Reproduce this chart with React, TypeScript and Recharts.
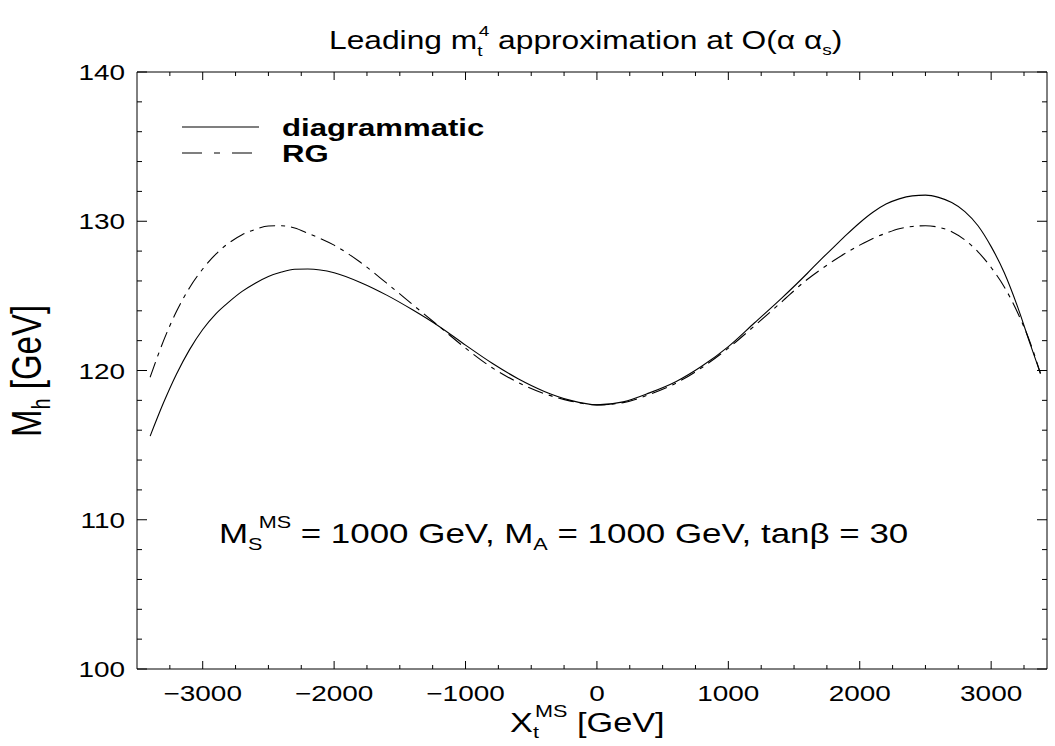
import React from 'react';
import { LineChart, Line, XAxis, YAxis } from 'recharts';

const xValues = [-3400, -3300, -3200, -3100, -3000, -2900, -2800, -2700, -2600, -2500, -2400, -2300, -2200, -2000, -1800, -1600, -1400, -1200, -1000, -800, -600, -400, -200, 0, 200, 400, 600, 800, 1000, 1200, 1400, 1600, 1700, 1800, 1900, 2000, 2100, 2200, 2300, 2400, 2500, 2600, 2700, 2800, 2900, 3000, 3100, 3200, 3300, 3375];
const diagrammatic = [115.6, 117.8, 119.75, 121.4, 122.75, 123.8, 124.6, 125.3, 125.85, 126.3, 126.6, 126.78, 126.8, 126.55, 125.9, 125.05, 124.05, 122.95, 121.7, 120.5, 119.45, 118.6, 118.0, 117.7, 117.9, 118.5, 119.25, 120.3, 121.6, 123.2, 124.8, 126.5, 127.4, 128.25, 129.1, 129.9, 130.6, 131.15, 131.5, 131.7, 131.75, 131.6, 131.25, 130.65, 129.7, 128.3, 126.55, 124.3, 121.7, 119.8];
const rg = [119.55, 121.95, 123.95, 125.55, 126.8, 127.8, 128.55, 129.1, 129.45, 129.68, 129.7, 129.55, 129.2, 128.4, 127.25, 125.85, 124.4, 122.95, 121.5, 120.2, 119.2, 118.45, 117.95, 117.7, 117.85, 118.4, 119.15, 120.2, 121.5, 123.0, 124.55, 126.1, 126.75, 127.35, 127.9, 128.4, 128.85, 129.2, 129.5, 129.65, 129.7, 129.6, 129.3, 128.75, 127.95, 126.9, 125.6, 123.9, 121.8, 119.8];

const xTicks = [-3250, -3000, -2750, -2500, -2250, -2000, -1750, -1500, -1250, -1000, -750, -500, -250, 0, 250, 500, 750, 1000, 1250, 1500, 1750, 2000, 2250, 2500, 2750, 3000, 3250];
const xMajor = [-3000, -2000, -1000, 0, 1000, 2000, 3000];
const yTicks = [100, 102, 104, 106, 108, 110, 112, 114, 116, 118, 120, 122, 124, 126, 128, 130, 132, 134, 136, 138, 140];
const yMajor = [100, 110, 120, 130, 140];

const data = xValues.map((x, i) => ({ x, diagrammatic: diagrammatic[i], rg: rg[i] }));

const SX = 1.27;
const FONT = '"Liberation Sans", Arial, Helvetica, sans-serif';
const fmt = (v: number) => (v < 0 ? '\u2212' + Math.abs(v) : String(v));

function XTickBottom(props: any) {
  const { x, y, payload } = props;
  const v = payload.value;
  const major = xMajor.includes(v);
  return (
    <g>
      <line x1={x} x2={x} y1={y} y2={y - (major ? 8 : 4)} stroke="#000" strokeWidth={1} />
      {major && (
        <g transform={`translate(${x},${y + 32}) scale(${SX},1)`}>
          <text x={0} y={0} textAnchor="middle" fontSize={22} fontFamily={FONT} fill="#000">{fmt(v)}</text>
        </g>
      )}
    </g>
  );
}
function XTickTop(props: any) {
  const { x, y, payload } = props;
  const major = xMajor.includes(payload.value);
  return <line x1={x} x2={x} y1={y} y2={y + (major ? 8 : 4)} stroke="#000" strokeWidth={1} />;
}
function YTickLeft(props: any) {
  const { x, y, payload } = props;
  const v = payload.value;
  const major = yMajor.includes(v);
  return (
    <g>
      <line x1={x} x2={x + (major ? 10 : 5)} y1={y} y2={y} stroke="#000" strokeWidth={1} />
      {major && (
        <g transform={`translate(${x - 12},${y + 8}) scale(${SX},1)`}>
          <text x={0} y={0} textAnchor="end" fontSize={22} fontFamily={FONT} fill="#000">{fmt(v)}</text>
        </g>
      )}
    </g>
  );
}
function YTickRight(props: any) {
  const { x, y, payload } = props;
  const major = yMajor.includes(payload.value);
  return <line x1={x} x2={x - (major ? 10 : 5)} y1={y} y2={y} stroke="#000" strokeWidth={1} />;
}

export default function App() {
  return (
    <div style={{ position: 'absolute', left: 0, top: 0, width: 1055, height: 746, background: '#fff' }}>
      <LineChart width={1055} height={746} data={data} margin={{ top: 0, right: 0, bottom: 0, left: 0 }}>
        <XAxis dataKey="x" type="number" domain={[-3500, 3425]} ticks={xTicks} interval={0} allowDataOverflow
          height={77} tickSize={0} tickMargin={0} tickLine={false} axisLine={{ stroke: '#000' }} tick={<XTickBottom />} />
        <XAxis xAxisId="top" orientation="top" dataKey="x" type="number" domain={[-3500, 3425]} ticks={xTicks} interval={0} allowDataOverflow
          height={72} tickSize={0} tickMargin={0} tickLine={false} axisLine={{ stroke: '#000' }} tick={<XTickTop />} />
        <YAxis type="number" domain={[100, 140]} ticks={yTicks} interval={0} allowDataOverflow
          width={137} tickSize={0} tickMargin={0} tickLine={false} axisLine={{ stroke: '#000' }} tick={<YTickLeft />} />
        <YAxis yAxisId="right" orientation="right" type="number" domain={[100, 140]} ticks={yTicks} interval={0} allowDataOverflow
          width={8} tickSize={0} tickMargin={0} tickLine={false} axisLine={{ stroke: '#000' }} tick={<YTickRight />} />
        <Line dataKey="diagrammatic" type="monotone" dot={false} stroke="#000" strokeWidth={1.1} isAnimationActive={false} />
        <Line dataKey="rg" type="monotone" dot={false} stroke="#000" strokeWidth={1.1} strokeDasharray="16 6 4 6" isAnimationActive={false} />
      </LineChart>
      <svg width={1055} height={746} style={{ position: 'absolute', left: 0, top: 0, pointerEvents: 'none' }}>
        <g transform={`translate(329,49) scale(${SX},1)`}>
          <text fontSize={25} fontFamily={FONT} fill="#000">Leading m<tspan fontSize={15} dy={7}>t</tspan><tspan fontSize={15} dx={-3} dy={-20}>4</tspan><tspan dy={13}> approximation at O(α α</tspan><tspan fontSize={15} dy={6}>s</tspan><tspan dy={-6}>)</tspan></text>
        </g>
        <line x1={182} x2={259} y1={127} y2={127} stroke="#000" strokeWidth={1.2} />
        <line x1={182} x2={259} y1={153} y2={153} stroke="#000" strokeWidth={1.2} strokeDasharray="20 12 6 12" />
        <g transform={`translate(282,136) scale(${SX},1)`}>
          <text fontSize={24.5} fontWeight="bold" fontFamily={FONT} fill="#000">diagrammatic</text>
        </g>
        <g transform={`translate(282,162) scale(${SX},1)`}>
          <text fontSize={24.5} fontWeight="bold" fontFamily={FONT} fill="#000">RG</text>
        </g>
        <g transform={`translate(219,543) scale(${SX},1)`}>
          <text fontSize={27.5} fontFamily={FONT} fill="#000">M<tspan fontSize={17} dy={7}>S</tspan><tspan fontSize={17} dx={-3} dy={-22}>MS</tspan><tspan dy={15}> = 1000 GeV, M</tspan><tspan fontSize={17} dy={7}>A</tspan><tspan dy={-7}> = 1000 GeV, tanβ = 30</tspan></text>
        </g>
        <g transform={`translate(510,732) scale(${SX},1)`}>
          <text fontSize={27} fontFamily={FONT} fill="#000">X<tspan fontSize={17} dy={6}>t</tspan><tspan fontSize={17} dx={-3} dy={-21}>MS</tspan><tspan dy={15}> [GeV]</tspan></text>
        </g>
        <g transform={`translate(41,437) rotate(-90) scale(1,${SX})`}>
          <text fontSize={33} fontFamily={FONT} fill="#000">M<tspan fontSize={20} dy={7}>h</tspan><tspan dy={-7}> [GeV]</tspan></text>
        </g>
      </svg>
    </div>
  );
}
